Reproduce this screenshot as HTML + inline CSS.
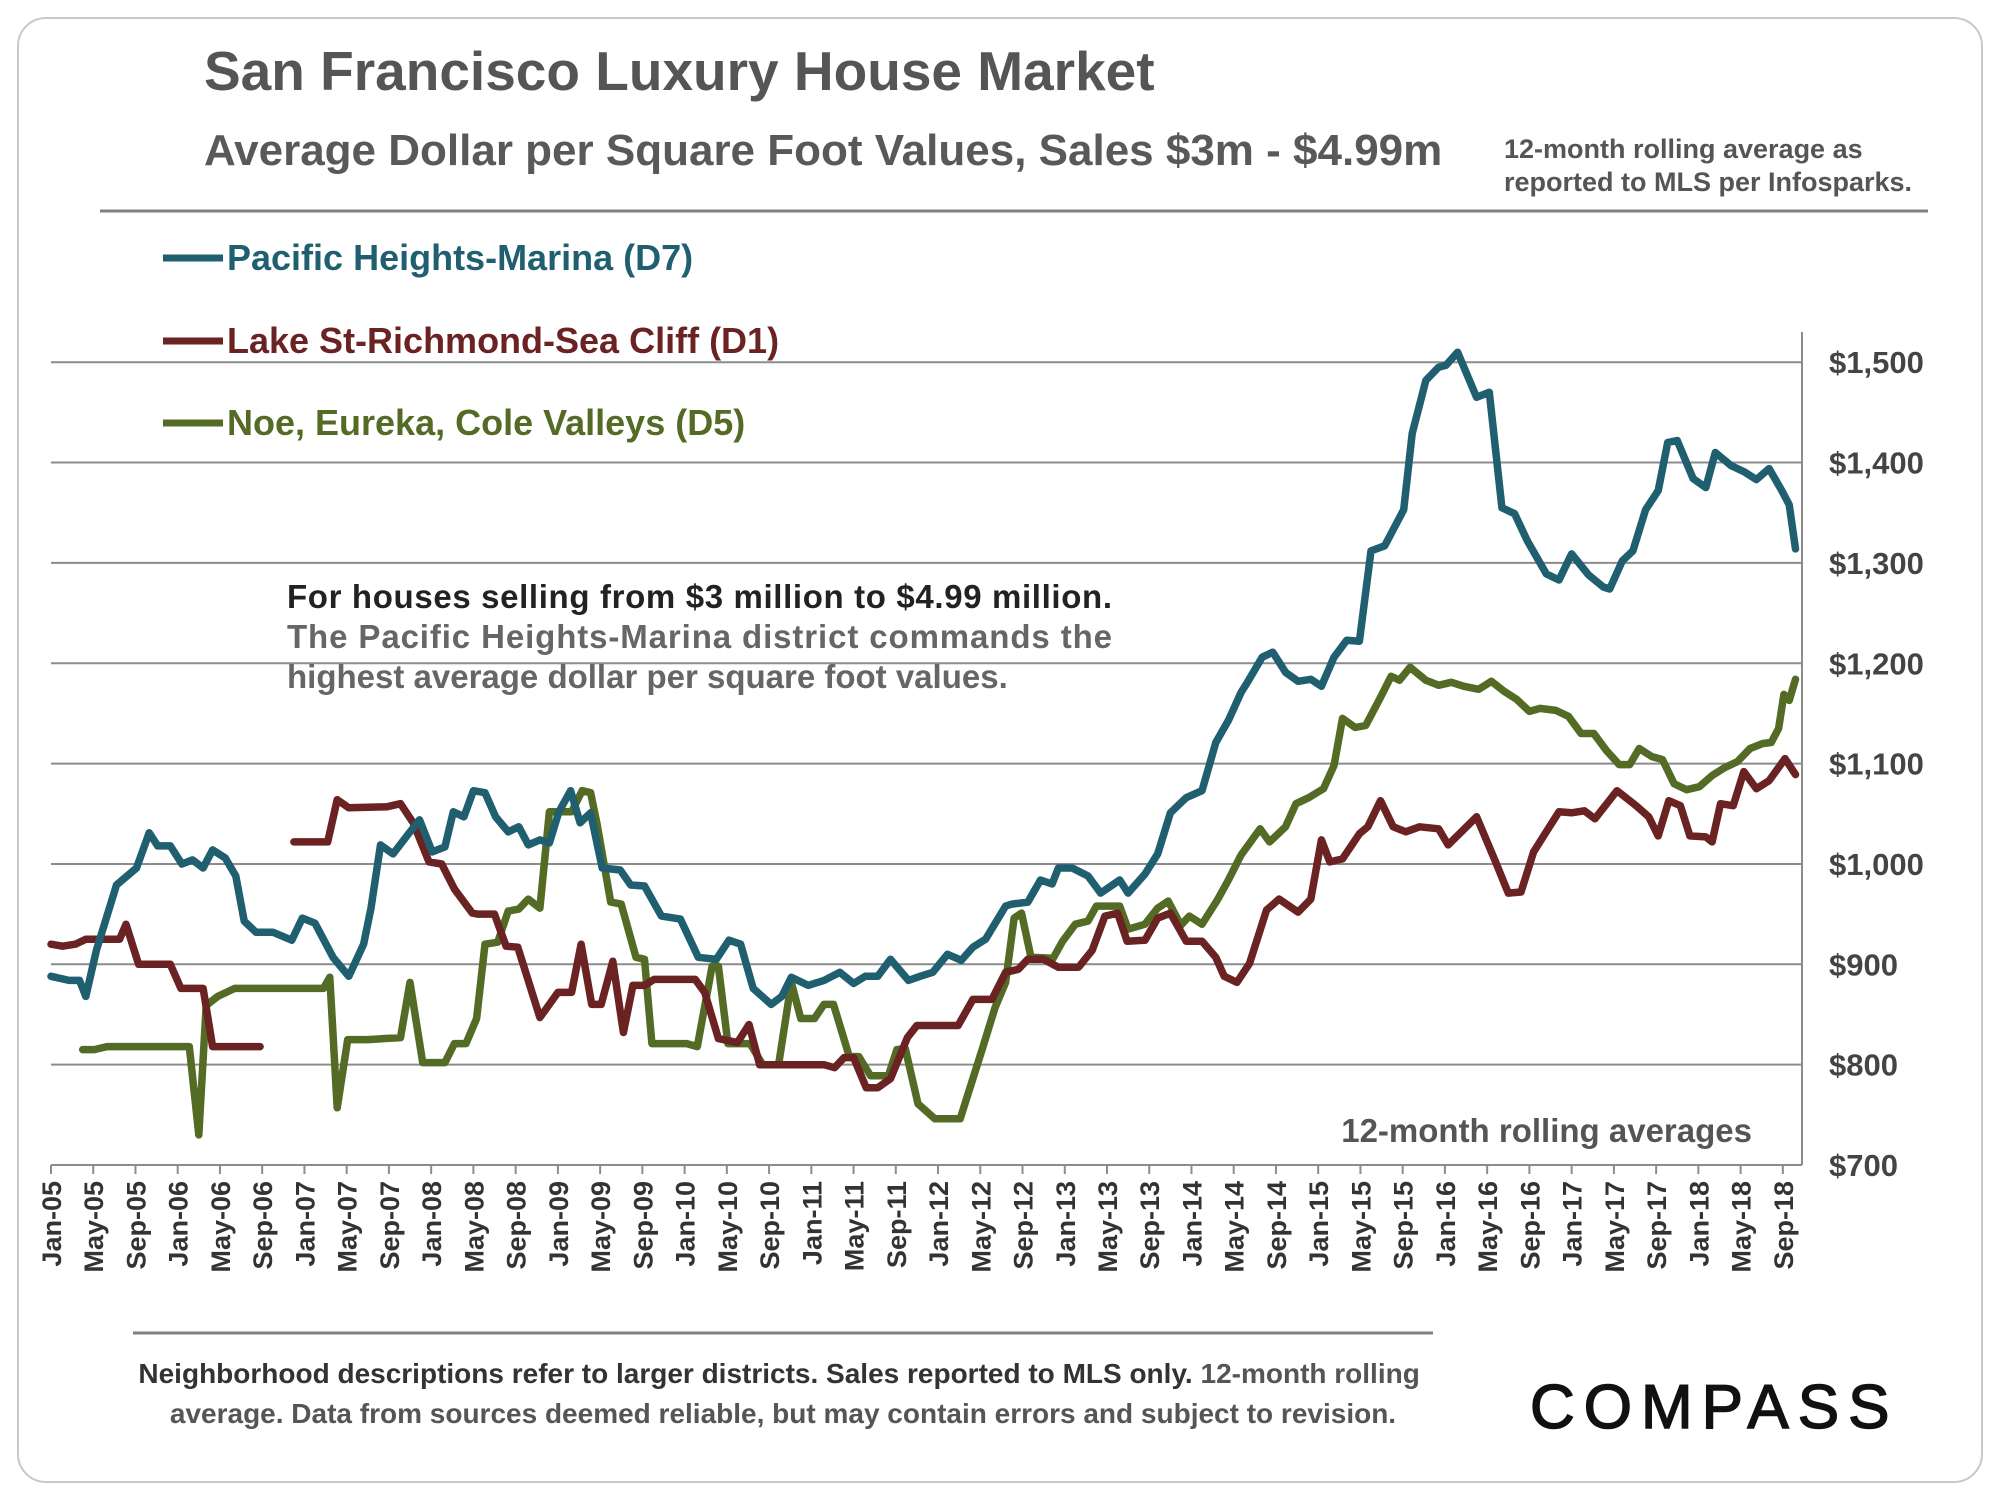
<!DOCTYPE html>
<html><head><meta charset="utf-8"><style>
html,body{margin:0;padding:0;background:#fff;}
body{width:2000px;height:1500px;overflow:hidden;font-family:"Liberation Sans",sans-serif;}
</style></head><body>
<svg id="chart" width="2000" height="1500" xmlns="http://www.w3.org/2000/svg" font-family="Liberation Sans, sans-serif">
<rect x="18" y="18" width="1964" height="1464" rx="28" fill="#fff" stroke="#c8c8c8" stroke-width="2"/>
<text x="204" y="90" font-size="55" font-weight="bold" fill="#555">San Francisco Luxury House Market</text>
<text x="204" y="165" font-size="44" font-weight="bold" fill="#595959">Average Dollar per Square Foot Values, Sales $3m - $4.99m</text>
<text x="1504" y="158" font-size="27" font-weight="bold" fill="#555"><tspan x="1504">12-month rolling average as</tspan><tspan x="1504" dy="33">reported to MLS per Infosparks.</tspan></text>
<line x1="100" y1="211" x2="1928" y2="211" stroke="#808080" stroke-width="3"/>
<g id="grid"></g>
<g id="yaxis"></g>
<g id="xaxis"></g>
<text font-size="33" font-weight="bold">
<tspan x="287" y="608" fill="#222" textLength="825" lengthAdjust="spacing">For houses selling from $3 million to $4.99 million.</tspan>
<tspan x="287" y="648" fill="#666" textLength="825" lengthAdjust="spacing">The Pacific Heights-Marina district commands the</tspan>
<tspan x="287" y="688" fill="#666">highest average dollar per square foot values.</tspan>
</text>
<text x="1752" y="1142" font-size="33" font-weight="bold" fill="#555" text-anchor="end">12-month rolling averages</text>
<g id="series"></g>
<g>
<g><line x1="163" y1="258" x2="223" y2="258" stroke="#1f5f70" stroke-width="7"/><text x="227" y="270" font-size="36" font-weight="bold" fill="#1f5f70">Pacific Heights-Marina (D7)</text></g>
<g><line x1="163" y1="341" x2="223" y2="341" stroke="#6b2222" stroke-width="7"/><text x="227" y="353" font-size="36" font-weight="bold" fill="#6b2222">Lake St-Richmond-Sea Cliff (D1)</text></g>
<g><line x1="163" y1="423" x2="223" y2="423" stroke="#536b25" stroke-width="7"/><text x="227" y="435" font-size="36" font-weight="bold" fill="#536b25">Noe, Eureka, Cole Valleys (D5)</text></g>
</g>
<line x1="133" y1="1333" x2="1433" y2="1333" stroke="#808080" stroke-width="3"/>
<text font-size="28" font-weight="bold" fill="#333" text-anchor="middle">
<tspan x="783" y="1383">Neighborhood descriptions refer to larger districts.  Sales reported to MLS only. <tspan fill="#555">12-month rolling</tspan></tspan>
<tspan x="783" y="1423" fill="#555">average. Data from sources deemed reliable, but may contain errors and subject to revision.</tspan>
</text>
<text x="1530" y="1428" font-size="62" fill="#111" stroke="#111" stroke-width="1.5" letter-spacing="9">COMPASS</text>
</svg>
<script>
// months since Jan-05 (sparse vertices) and $/sqft values; null breaks a line
const d7Months=[0,1.7,2.7,3.3,4.3,6.2,8.1,9.3,10.1,11.3,12.4,13.4,14.4,15.3,16.5,17.5,18.3,19.4,21,22.8,23.8,25,26.7,28.2,29.6,30.3,31.2,32.4,33.7,34.9,36.1,37.3,38.1,39.1,40,41.1,42.1,43.3,44.3,45.2,46.3,47.2,48.1,49.2,50.1,51.1,52.2,53.9,54.9,56.2,57.8,59.6,61.3,63,64.2,65.3,66.5,68.2,69.2,70.1,71.7,73.2,74.7,76,77.1,78.3,79.5,81.2,82.3,83.5,84.9,86.2,87.3,88.5,90.4,91,92.5,93.7,94.8,95.4,96.7,98.2,99.4,101.2,102,103.6,104.8,106,107.5,109,110.3,111.5,112.7,113.3,114.7,115.7,116.9,118.1,119.3,120.3,121.5,122.7,123.9,125,126.3,128.1,128.9,130.2,131.4,132.1,133.2,135,136.2,137.4,138.6,139.8,141.6,142.8,144,145.6,147,147.6,148.8,149.8,151,152.2,153.1,154,155.5,156.7,157.6,159.1,160.3,161.5,162.7,163.9,164.6,165.2];
const d7Values=[888,884,884,868,914,979,996,1031,1018,1018,1000,1004,996,1014,1006,988,943,932,932,924,946,941,907,888,920,956,1019,1010,1028,1044,1012,1017,1052,1047,1073,1071,1047,1032,1037,1019,1024,1021,1052,1073,1041,1051,996,994,979,978,948,945,907,905,924,920,876,860,868,887,879,884,892,881,888,888,905,884,888,892,910,904,917,925,958,960,962,984,980,996,996,988,971,984,971,990,1010,1051,1066,1073,1121,1143,1171,1181,1206,1211,1191,1182,1184,1177,1206,1223,1222,1312,1317,1353,1429,1482,1495,1497,1510,1465,1470,1355,1349,1322,1289,1283,1309,1288,1276,1274,1302,1312,1353,1372,1420,1422,1384,1375,1410,1397,1391,1383,1394,1372,1358,1314];
const d1Months=[0,1.1,2.3,3.3,5.3,6.5,7.1,8.3,11.3,12.3,14.4,15.3,19.8,21,23,26.2,27.1,28.2,31.8,33.1,34.3,35.8,37,38.2,39.9,40.4,42,43.1,44.2,46.3,48,49.3,50.2,51.2,52.1,53.2,54.2,55.1,56.2,57.1,61,61.9,63.2,65,66.1,67.1,73.2,74.2,75.1,76,77.2,78.3,79.5,81.1,82,85.9,87.3,89.1,90.4,91.6,92.5,94,95.4,97.3,98.6,99.8,101,101.9,103.6,104.8,106,107.5,109,110.3,111.1,112.3,113.5,115.1,116.3,118.1,119.3,120.3,121.1,122.3,123.9,124.7,125.9,127.1,128.3,129.6,131.4,132.3,135,136.8,138,139.2,140.4,141.6,142.8,144,145.2,146.2,148.3,150.1,151.3,152.2,153.2,154.3,155.2,156.7,157.3,158.1,159.3,160.3,161.5,162.7,164.2,165.2];
const d1Values=[920,918,920,925,925,925,940,900,900,876,876,818,818,null,1022,1022,1064,1056,1057,1060,1041,1002,1000,975,951,950,950,918,917,847,872,872,920,860,860,903,832,879,879,885,885,872,826,822,840,800,800,797,807,807,777,777,786,827,839,839,865,865,892,895,905,905,897,897,914,948,951,923,924,946,951,923,923,907,888,882,901,954,965,952,965,1024,1002,1005,1030,1037,1063,1037,1032,1037,1035,1019,1047,1002,971,972,1012,1032,1052,1051,1053,1045,1073,1058,1047,1028,1063,1058,1028,1027,1022,1060,1058,1092,1075,1083,1105,1089];
const d5Months=[3,4.1,5.3,13.1,14,14.7,15.8,17.4,25.8,26.4,27.1,28.1,30,33.1,34,35.2,37.3,38.2,39.3,40.3,41.1,42.3,43.3,44.3,45.2,46.3,47.2,49.3,50.3,51.1,51.7,53,54,55.4,56.2,56.9,60.2,61.2,62.6,63.2,64.1,66.2,67.4,68.9,70.1,71,72.3,73.2,74.1,75.6,76.5,77.6,79.3,80.1,80.9,82.1,83.7,86.1,88.2,89.4,90.4,91.2,91.9,92.8,94.9,95.8,97,98.2,99,101.2,102,103.6,104.8,105.8,107,107.8,109,110.5,111.5,112.7,114.5,115.4,116.9,117.9,119.1,120.5,121.5,122.3,123.5,124.5,125.9,126.9,127.7,128.7,130.2,131.4,132.6,133.8,135.2,136.4,137.6,138.8,140,141,142.5,143.7,144.9,146.1,147.3,148.5,149.5,150.4,151.6,152.6,153.7,154.9,156.1,157.3,158.5,159.7,160.9,162.1,162.9,163.6,164.1,164.6,165.2];
const d5Values=[815,815,818,818,730,859,868,876,876,887,757,825,825,827,882,802,802,821,821,846,920,922,953,955,965,956,1052,1052,1073,1071,1040,962,960,907,905,821,821,818,898,898,821,821,800,800,882,846,846,860,860,808,808,789,789,815,816,761,746,746,816,857,882,946,951,907,906,923,940,943,958,958,935,940,956,963,939,948,940,965,984,1009,1035,1022,1037,1060,1066,1075,1098,1145,1136,1138,1166,1187,1183,1196,1183,1178,1181,1177,1174,1182,1172,1164,1152,1155,1153,1147,1130,1130,1113,1099,1099,1115,1107,1104,1080,1074,1077,1088,1096,1102,1115,1120,1121,1135,1169,1163,1184];
const yTicks=[700,800,900,1000,1100,1200,1300,1400,1500];
const yTickLabels=["$700","$800","$900","$1,000","$1,100","$1,200","$1,300","$1,400","$1,500"];
const xTickLabels=["Jan-05","May-05","Sep-05","Jan-06","May-06","Sep-06","Jan-07","May-07","Sep-07","Jan-08","May-08","Sep-08","Jan-09","May-09","Sep-09","Jan-10","May-10","Sep-10","Jan-11","May-11","Sep-11","Jan-12","May-12","Sep-12","Jan-13","May-13","Sep-13","Jan-14","May-14","Sep-14","Jan-15","May-15","Sep-15","Jan-16","May-16","Sep-16","Jan-17","May-17","Sep-17","Jan-18","May-18","Sep-18"];

const NS="http://www.w3.org/2000/svg";
const X0=51,PXM=10.56,PLOTR=1802,Y0=1165,PXV=1.0035;
function xScale(m){return X0+m*PXM;}
function yScale(v){return Y0-(v-700)*PXV;}
function mk(tag,attrs,parent){const e=document.createElementNS(NS,tag);for(const k in attrs)e.setAttribute(k,attrs[k]);parent.appendChild(e);return e;}
const grid=document.getElementById('grid'),yaxis=document.getElementById('yaxis'),xaxis=document.getElementById('xaxis'),series=document.getElementById('series');
yTicks.forEach((v,i)=>{
  const g=mk('line',{x1:X0,x2:PLOTR,y1:yScale(v),y2:yScale(v),stroke:'#8c8c8c','stroke-width':2},grid);
  
  
  const t=mk('text',{x:1829,y:yScale(v)+11,'font-size':31,'font-weight':'bold',fill:'#444'},yaxis);
  t.textContent=yTickLabels[i];
  
  
});
const ax=mk('line',{x1:PLOTR,x2:PLOTR,y1:332,y2:Y0,stroke:'#8c8c8c','stroke-width':2},yaxis);


xTickLabels.forEach((lab,i)=>{
  const x=xScale(i*4);
  const tk=mk('line',{x1:x,x2:x,y1:Y0,y2:Y0+9,stroke:'#8c8c8c','stroke-width':2},xaxis);
  
  
  const t=mk('text',{x:0,y:0,'font-size':27,'font-weight':'bold',fill:'#333','text-anchor':'end',transform:'translate('+(x+10)+','+(Y0+16)+') rotate(-90)'},xaxis);
  t.textContent=lab;
  
  
});
function drawSeries(months,vals,color,name){
  let d='',pen=false;
  for(let i=0;i<months.length;i++){
    if(vals[i]===null){pen=false;continue;}
    d+=(pen?'L':'M')+xScale(months[i]).toFixed(1)+' '+yScale(vals[i]).toFixed(1)+' ';pen=true;
  }
  const p=mk('path',{d:d,fill:'none',stroke:color,'stroke-width':7.5,'stroke-linejoin':'round','stroke-linecap':'round'},series);
  
  
}
drawSeries(d5Months,d5Values,'#536b25','line-d5-noe-eureka-cole');
drawSeries(d1Months,d1Values,'#6b2222','line-d1-lake-st-richmond');
drawSeries(d7Months,d7Values,'#1f5f70','line-d7-pacific-heights');
</script>
</body></html>
